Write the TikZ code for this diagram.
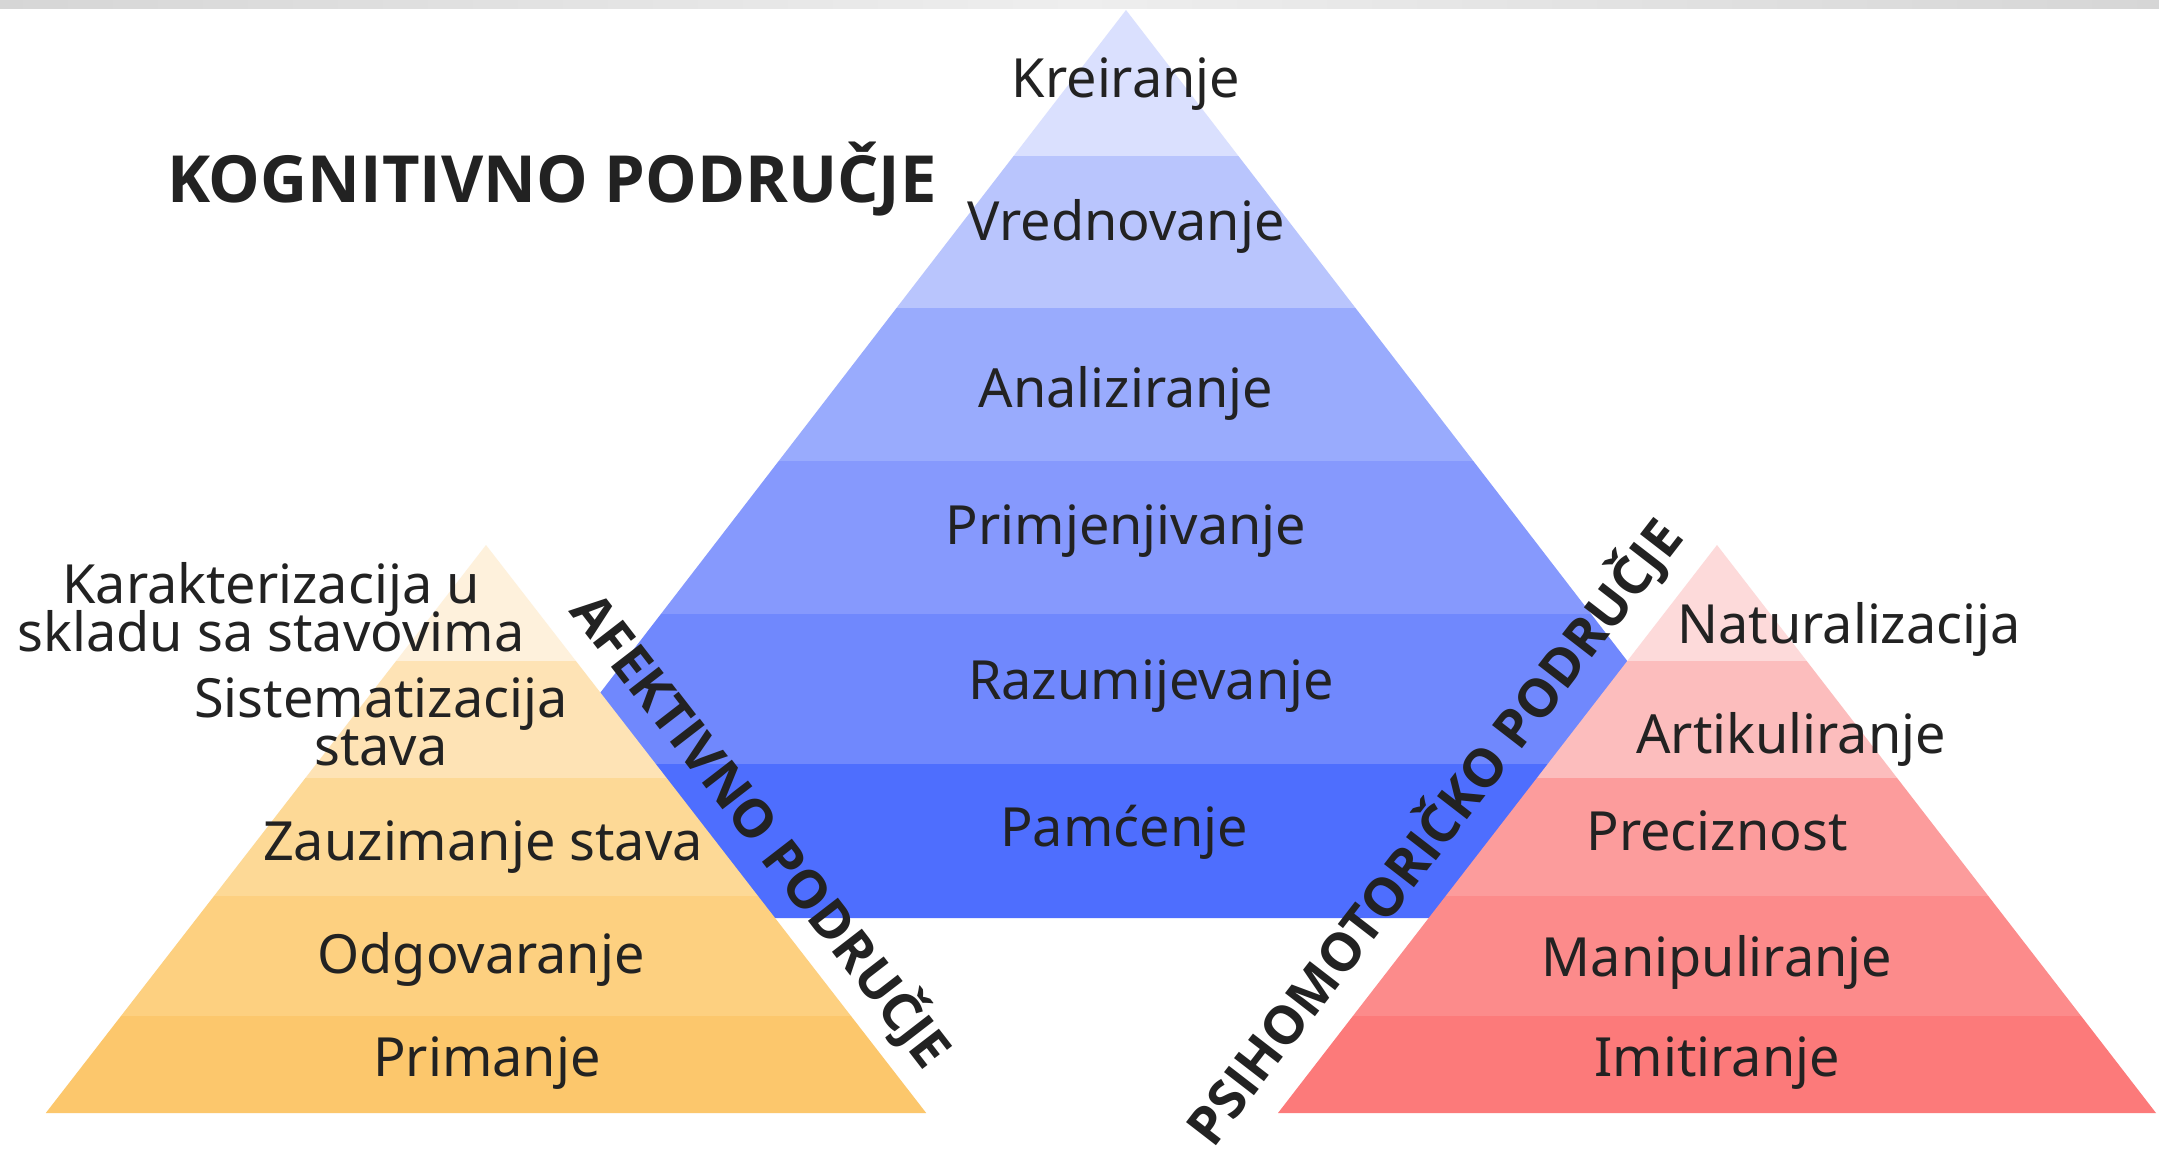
\documentclass[tikz,border=0pt]{standalone}
\usepackage{fontspec}
\setmainfont{Noto Sans}
\newfontfamily\boldsans{Open Sans}
\newcommand\lblfont{\fontsize{27}{24}\selectfont\lineskiplimit=-30pt\relax}
\definecolor{txt}{HTML}{222222}
\definecolor{bA}{HTML}{DAE0FE}
\definecolor{bB}{HTML}{B9C5FD}
\definecolor{bC}{HTML}{99ABFD}
\definecolor{bD}{HTML}{8699FD}
\definecolor{bE}{HTML}{7088FD}
\definecolor{bF}{HTML}{4E6EFE}
\definecolor{oA}{HTML}{FEF1DC}
\definecolor{oB}{HTML}{FEE3B5}
\definecolor{oC}{HTML}{FDD996}
\definecolor{oD}{HTML}{FDD080}
\definecolor{oE}{HTML}{FCC76C}
\definecolor{rA}{HTML}{FDDADA}
\definecolor{rB}{HTML}{FCBDBD}
\definecolor{rC}{HTML}{FC9C9C}
\definecolor{rD}{HTML}{FC8B8B}
\definecolor{rE}{HTML}{FC7A7A}
\definecolor{barE}{HTML}{D6D6D6}
\definecolor{barM}{HTML}{EEEEEE}
\begin{document}
\begin{tikzpicture}[x=0.5pt,y=-0.5pt,
  lbl/.style={text=txt,font=\lblfont,align=center,inner sep=0pt},
  ttl/.style={text=txt,font=\fontsize{32.5}{36}\selectfont\boldsans\bfseries,inner sep=0pt},
  side/.style={text=txt,font=\fontsize{26.5}{30}\selectfont\boldsans\bfseries,inner sep=0pt}]
\useasboundingbox (0,0) rectangle (2159,1151);
\fill[white] (0,0) rectangle (2159,1151);
\shade[left color=barE,right color=barE,middle color=barM] (0,0) rectangle (2159,8);
% blue pyramid
\fill[bA] (1126,10) -- (1238.4,156) -- (1013.6,156) -- cycle;
\fill[bB] (1013.6,156) -- (1238.4,156) -- (1355.5,308) -- (896.5,308) -- cycle;
\fill[bC] (896.5,308) -- (1355.5,308) -- (1473.3,461) -- (778.7,461) -- cycle;
\fill[bD] (778.7,461) -- (1473.3,461) -- (1591.1,614) -- (660.9,614) -- cycle;
\fill[bE] (660.9,614) -- (1591.1,614) -- (1706.6,764) -- (545.4,764) -- cycle;
\fill[bF] (545.4,764) -- (1706.6,764) -- (1825.2,918) -- (426.8,918) -- cycle;
% orange pyramid
\fill[oA] (486,545) -- (575.9,661) -- (396.1,661) -- cycle;
\fill[oB] (396.1,661) -- (575.9,661) -- (666.6,778) -- (305.4,778) -- cycle;
\fill[oC] (305.4,778) -- (666.6,778) -- (758,896) -- (214,896) -- cycle;
\fill[oD] (214,896) -- (758,896) -- (851,1016) -- (121,1016) -- cycle;
\fill[oE] (121,1016) -- (851,1016) -- (926.2,1113) -- (45.8,1113) -- cycle;
% red pyramid
\fill[rA] (1717,545) -- (1806.7,661) -- (1627.3,661) -- cycle;
\fill[rB] (1627.3,661) -- (1806.7,661) -- (1897.1,778) -- (1536.9,778) -- cycle;
\fill[rC] (1536.9,778) -- (1897.1,778) -- (1988.3,896) -- (1445.7,896) -- cycle;
\fill[rD] (1445.7,896) -- (1988.3,896) -- (2081.1,1016) -- (1352.9,1016) -- cycle;
\fill[rE] (1352.9,1016) -- (2081.1,1016) -- (2156,1113) -- (1278,1113) -- cycle;
% labels
\node[ttl] (kog) at (552,179) {KOGNITIVNO PODRUČJE};
\node[lbl] (k1) at (1126,84) {Kreiranje};
\node[lbl] (k2) at (1126,226) {Vrednovanje};
\node[lbl] (k3) at (1126,393) {Analiziranje};
\node[lbl] (k4) at (1126,531) {Primjenjivanje};
\node[lbl] (k5) at (1151,686) {Razumijevanje};
\node[lbl] (k6) at (1124,832) {Pamćenje};
\node[lbl] (a1) at (271,607) {Karakterizacija u\\skladu sa stavovima};
\node[lbl] (a2) at (381,722) {Sistematizacija\\stava};
\node[lbl] (a3) at (483,847) {Zauzimanje stava};
\node[lbl] (a4) at (481,959) {Odgovaranje};
\node[lbl] (a5) at (487,1063) {Primanje};
\node[lbl] (p1) at (1849,629) {Naturalizacija};
\node[lbl] (p2) at (1791,739) {Artikuliranje};
\node[lbl] (p3) at (1717,831) {Preciznost};
\node[lbl] (p4) at (1717,962) {Manipuliranje};
\node[lbl] (p5) at (1717,1063) {Imitiranje};
\node[side,rotate=-52.3] (afe) at (762,830) {AFEKTIVNO PODRUČJE};
\node[side,rotate=52.3] (psi) at (1434,832) {PSIHOMOTORIČKO PODRUČJE};
\end{tikzpicture}
\end{document}
